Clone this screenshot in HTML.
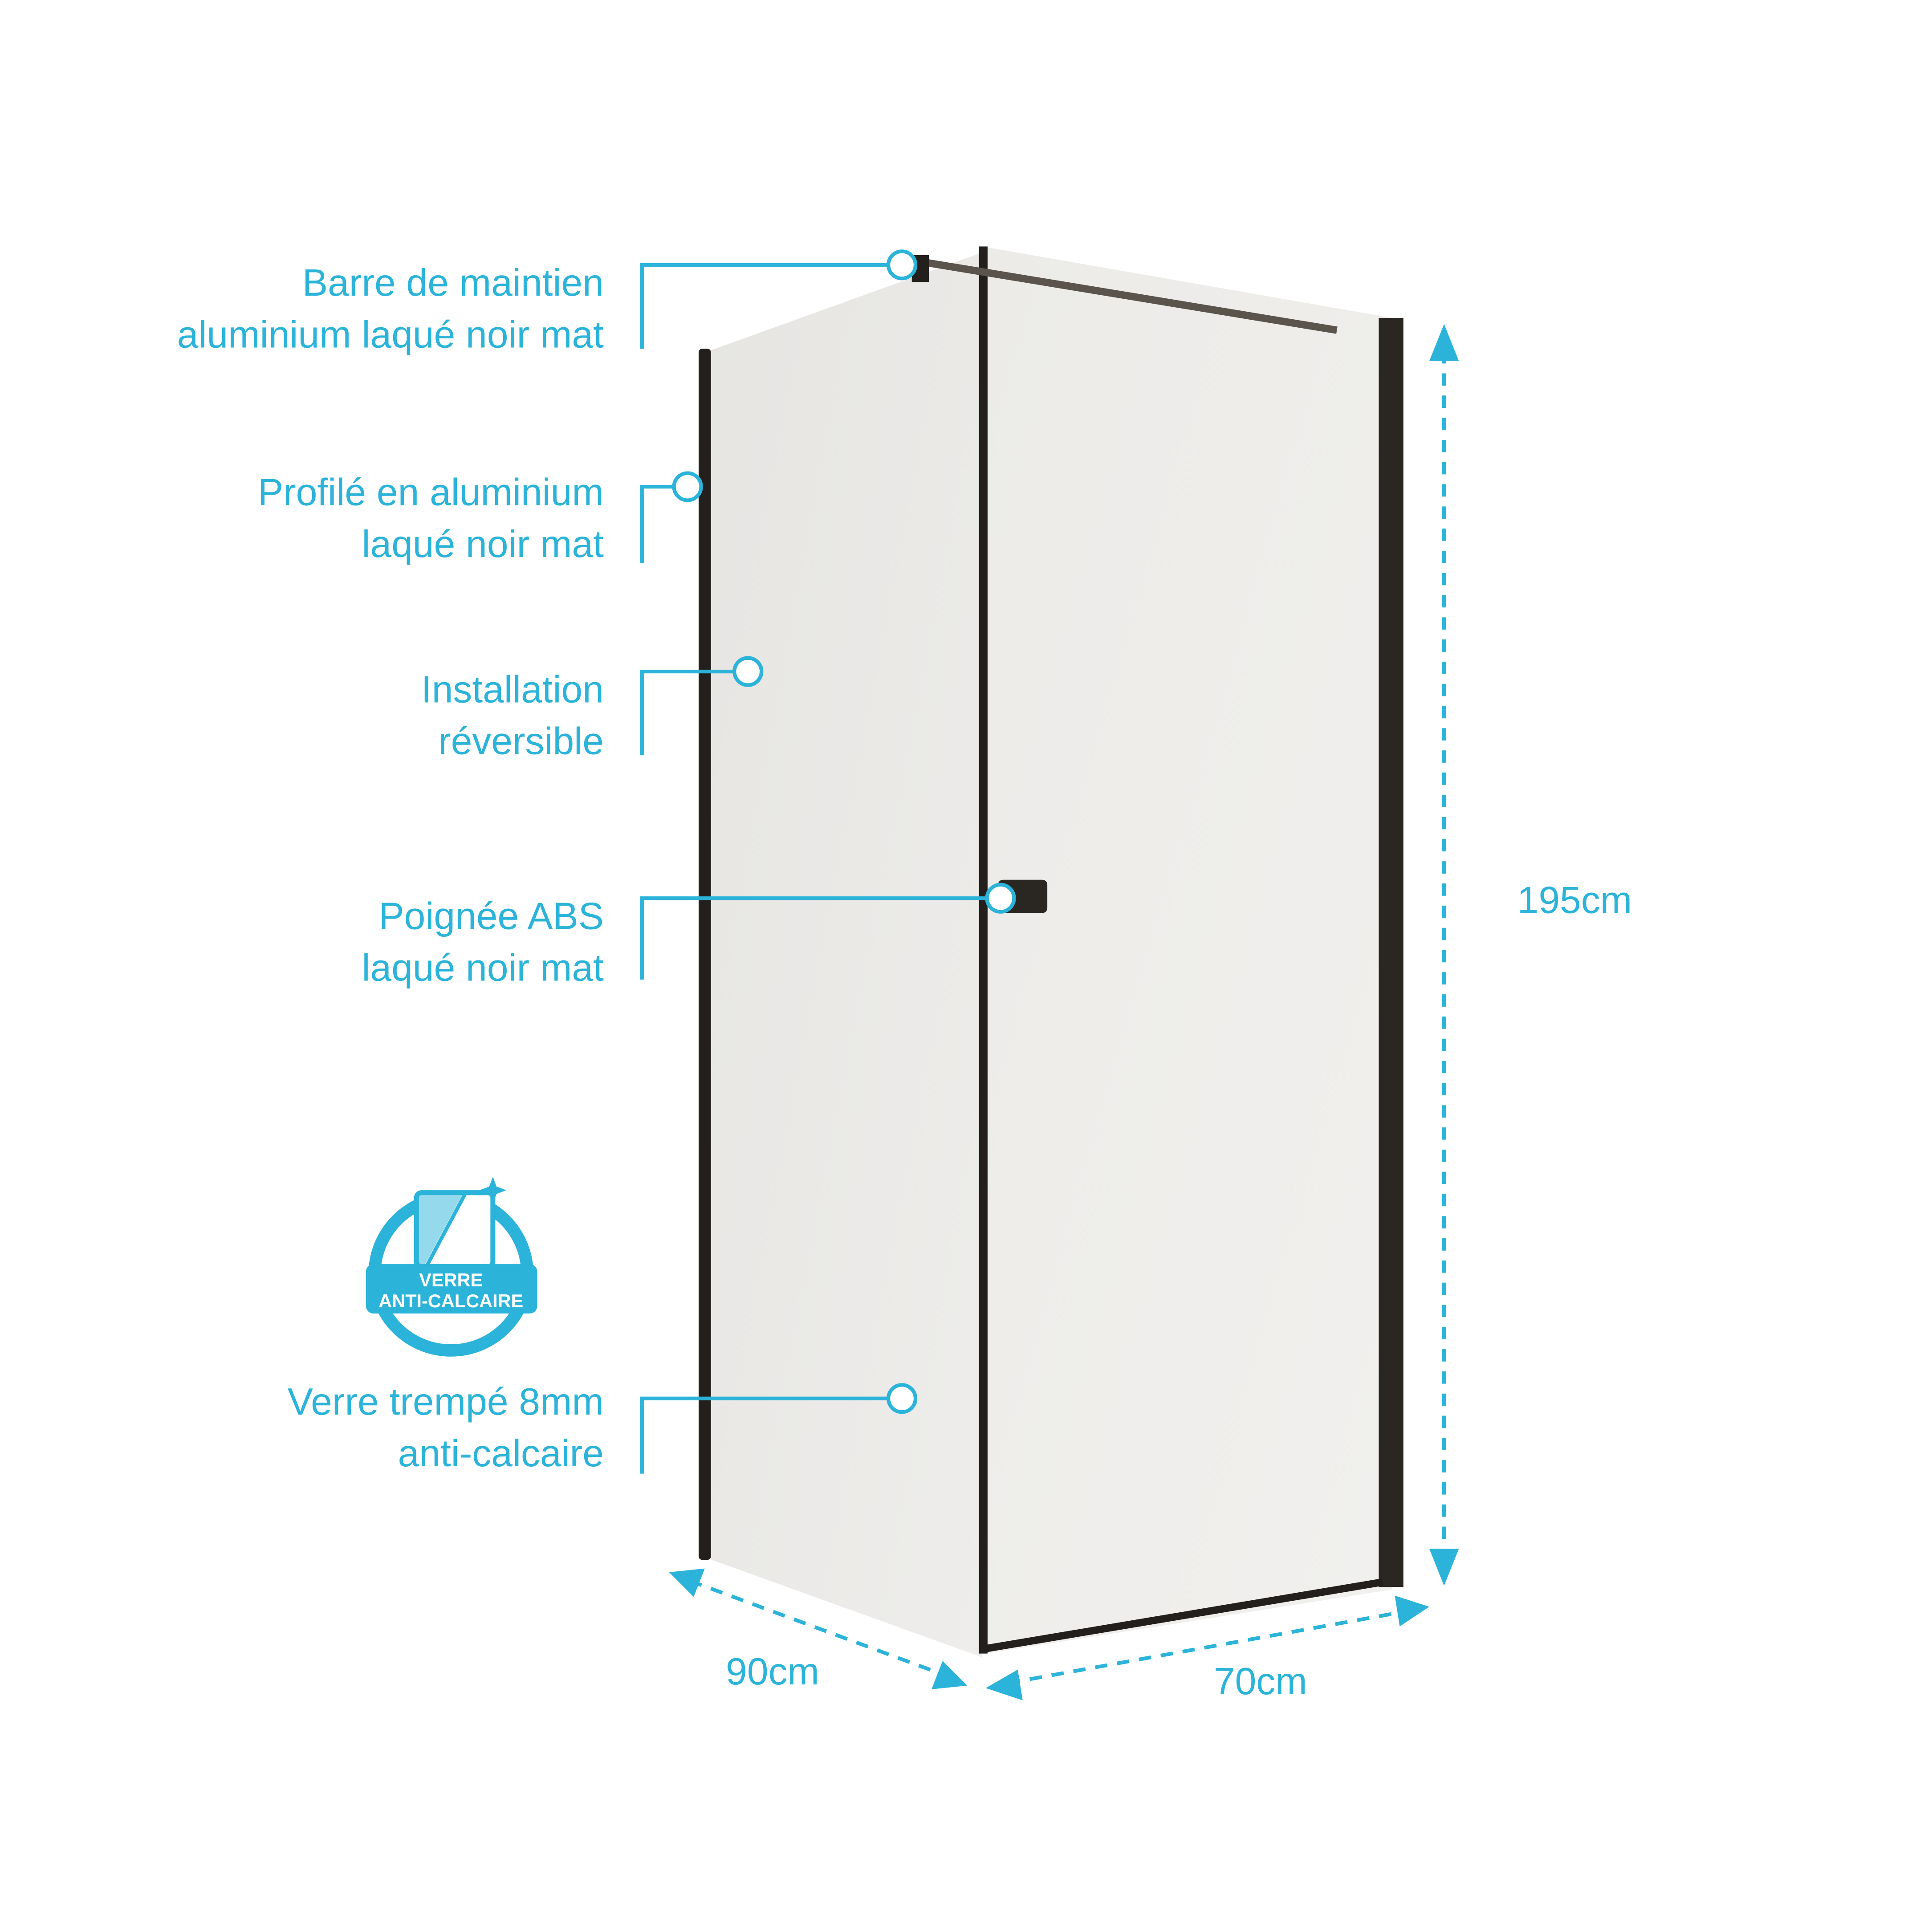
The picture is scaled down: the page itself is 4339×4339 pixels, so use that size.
<!DOCTYPE html>
<html><head><meta charset="utf-8"><style>
html,body{margin:0;padding:0;background:#fff;}
svg{display:block;}
text{font-family:"Liberation Sans Narrow","Liberation Sans",sans-serif;fill:#2bb3d9;}
</style></head><body>
<svg width="4339" height="4339" viewBox="0 0 1568 1568" xmlns="http://www.w3.org/2000/svg">
<defs>
<linearGradient id="g1" x1="0" y1="0" x2="1" y2="1"><stop offset="0" stop-color="#ecebe8"/><stop offset="1" stop-color="#f1f0ee"/></linearGradient>
<linearGradient id="g2" x1="0" y1="0" x2="1" y2="1"><stop offset="0" stop-color="#e6e5e2"/><stop offset="1" stop-color="#eeedeb"/></linearGradient>
</defs>
<rect width="1568" height="1568" fill="#fff"/>
<polygon points="575,285 797,205 797,1345 575,1265" fill="url(#g2)"/>
<polygon points="797,200 1130,258 1130,1290 800,1342" fill="url(#g1)"/>
<rect x="567" y="283" width="10" height="983" rx="3" fill="#231f1c"/>
<line x1="798" y1="200" x2="798" y2="1342" stroke="#231f1c" stroke-width="7"/>
<rect x="1119" y="258" width="20" height="1030" fill="#2a2622"/>
<line x1="800" y1="1338" x2="1122" y2="1284" stroke="#231f1c" stroke-width="6"/>
<line x1="745" y1="212" x2="1085" y2="268" stroke="#5b544c" stroke-width="6"/>
<rect x="740" y="207" width="14" height="22" fill="#231f1c"/>
<rect x="810" y="714" width="40" height="27" rx="4" fill="#2a2622"/>
<g stroke="#2bb3d9" stroke-width="3" fill="none">
<polyline points="521,283 521,215 721,215"/><circle cx="732" cy="215" r="11" fill="#fff"/>
<polyline points="521,457 521,395 547,395"/><circle cx="558" cy="395" r="11" fill="#fff"/>
<polyline points="521,613 521,545 596,545"/><circle cx="607" cy="545" r="11" fill="#fff"/>
<polyline points="521,795 521,729 801,729"/><circle cx="812" cy="729" r="11" fill="#fff"/>
<polyline points="521,1196 521,1135 721,1135"/><circle cx="732" cy="1135" r="11" fill="#fff"/>
</g>
<g font-size="31" text-anchor="end">
<text x="490" y="240">Barre de maintien</text>
<text x="490" y="282">aluminium laqué noir mat</text>
<text x="490" y="410">Profilé en aluminium</text>
<text x="490" y="452">laqué noir mat</text>
<text x="490" y="570">Installation</text>
<text x="490" y="612">réversible</text>
<text x="490" y="754">Poignée ABS</text>
<text x="490" y="796">laqué noir mat</text>
<text x="490" y="1148">Verre trempé 8mm</text>
<text x="490" y="1190">anti-calcaire</text>
</g>
<g stroke="#2bb3d9" stroke-width="3" stroke-dasharray="10,8" fill="none">
<line x1="1172" y1="285" x2="1172" y2="1270"/>
<line x1="560" y1="1283" x2="768" y2="1360"/>
<line x1="818" y1="1366" x2="1140" y2="1308"/>
</g>
<g fill="#2bb3d9">
<polygon points="1172,263 1160,293 1184,293"/>
<polygon points="1172,1287 1160,1257 1184,1257"/>
<polygon points="543,1276 572,1273 563,1296"/>
<polygon points="785,1368 756,1371 765,1348"/>
<polygon points="800,1370 826,1355 830,1380"/>
<polygon points="1160,1304 1132,1295 1136,1320"/>
</g>
<g font-size="31" text-anchor="middle">
<text x="1278" y="741">195cm</text>
<text x="627" y="1367">90cm</text>
<text x="1023" y="1375">70cm</text>
</g>
<g>
<circle cx="366" cy="1034" r="62" fill="none" stroke="#2bb3d9" stroke-width="10"/>
<circle cx="366" cy="1034" r="54" fill="#fff"/>
<rect x="338" y="968" width="62" height="60" rx="4" fill="#fff" stroke="#2bb3d9" stroke-width="4"/>
<polygon points="340,970 375,970 345,1026 340,1026" fill="#2bb3d9" opacity="0.5"/>
<line x1="378" y1="968" x2="346" y2="1028" stroke="#2bb3d9" stroke-width="3"/>
<path d="M400,955 l3,8 8,3 -8,3 -3,8 -3,-8 -8,-3 8,-3z" fill="#2bb3d9"/>
<rect x="297" y="1026" width="139" height="40" rx="6" fill="#2bb3d9"/>
<text x="366" y="1044" font-size="15" text-anchor="middle" style="fill:#fff;font-weight:bold">VERRE</text>
<text x="366" y="1061" font-size="15" text-anchor="middle" style="fill:#fff;font-weight:bold">ANTI-CALCAIRE</text>
</g>
</svg>
</body></html>
